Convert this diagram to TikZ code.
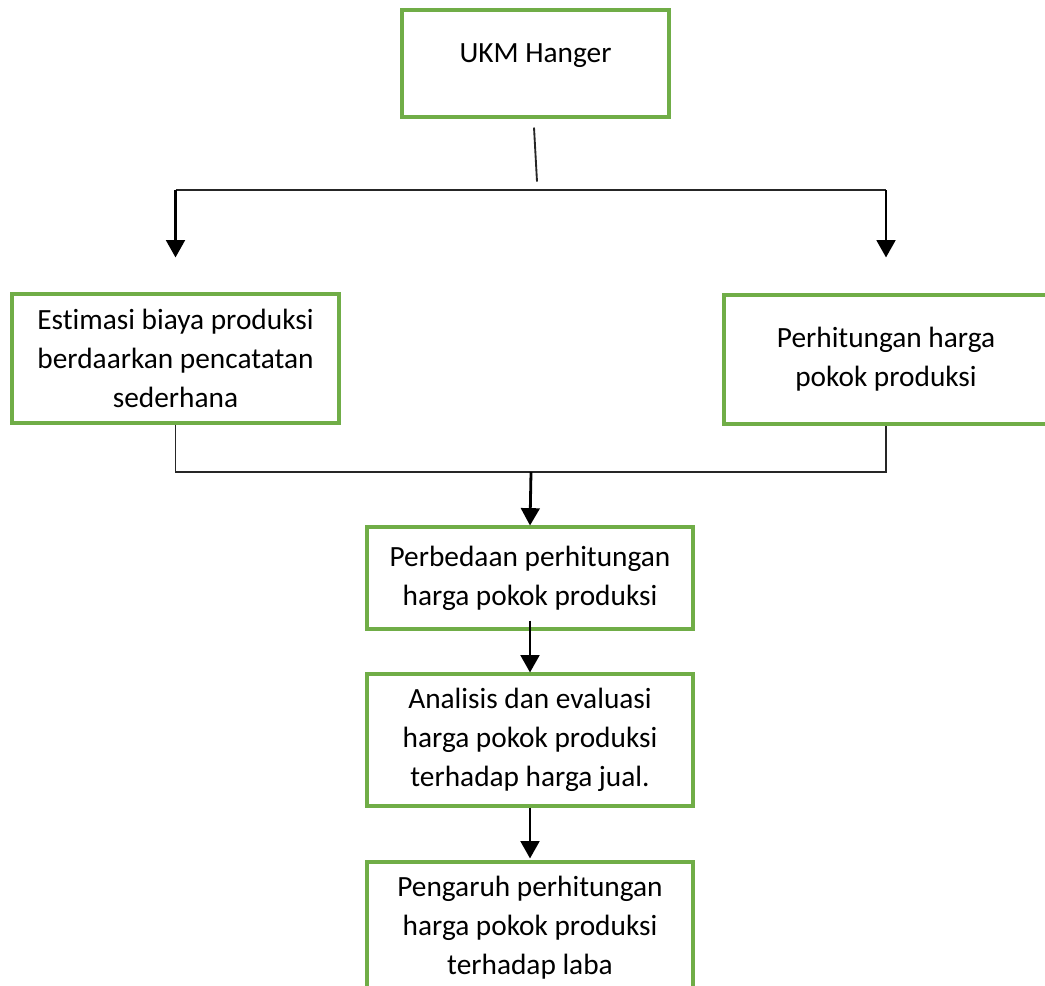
\documentclass[tikz,border=0pt]{standalone}
\usepackage{fontspec}
\setmainfont{Carlito}[Ligatures=NoCommon]
\usetikzlibrary{arrows.meta,calc}
\definecolor{boxgreen}{RGB}{112,173,71}

\begin{document}
\begin{tikzpicture}[x=0.75pt,y=-0.75pt,
  box/.style={draw=boxgreen,line width=2.3pt,align=center,inner sep=0pt,
    font=\fontsize{22}{29.25}\selectfont},
  arr/.style={draw=black,line width=2.1pt,-{Triangle[width=14pt,length=13pt]}},
  link/.style={draw=black!85,line width=1.1pt}]
  \path[use as bounding box,clip] (0,0) rectangle (1045,985);
  % boxes
  \node[box,minimum width=200.25pt,minimum height=80.25pt,text depth=15.75pt] (ukm) at (535.5,63.5) {UKM Hanger};
  \node[box,minimum width=245.25pt,minimum height=96.75pt] (est) at (175.5,358.5) {Estimasi biaya produksi\\berdaarkan pencatatan\\sederhana};
  \node[box,minimum width=243pt,minimum height=96.75pt] (hpp) at (886,359.5) {Perhitungan harga\\pokok produksi};
  \node[box,minimum width=244.5pt,minimum height=76.5pt] (beda) at (530,578) {Perbedaan perhitungan\\harga pokok produksi};
  \node[box,minimum width=244.5pt,minimum height=99pt] (anal) at (530,740) {Analisis dan evaluasi\\harga pokok produksi\\terhadap harga jual.};
  \node[box,minimum width=244.5pt,minimum height=99pt] (peng) at (530,928) {Pengaruh perhitungan\\harga pokok produksi\\terhadap laba};
  % split to both sides
  \coordinate (splitL) at (175.5,190);
  \coordinate (splitR) at (886,190);
  \draw[link,line width=1.4pt] ($(ukm.south)+(-1.5,9)$) -- ($(ukm.south)+(1.5,63)$);
  \draw[link] (splitL) -- (splitR);
  \draw[arr] (splitL) -- ($(est.north)+(0,-35)$);
  \draw[arr] (splitR) -- ($(hpp.north)+(0,-36)$);
  % merge
  \coordinate (merge) at (531,472);
  \draw[link] (est.south) |- (merge) -| (hpp.south);
  \draw[arr] (merge) -- (beda.north);
  \draw[arr] ($(beda.south)+(0,-10)$) -- (anal.north);
  \draw[arr] (anal.south) -- ($(peng.north)+(0,-2)$);
\end{tikzpicture}
\end{document}
